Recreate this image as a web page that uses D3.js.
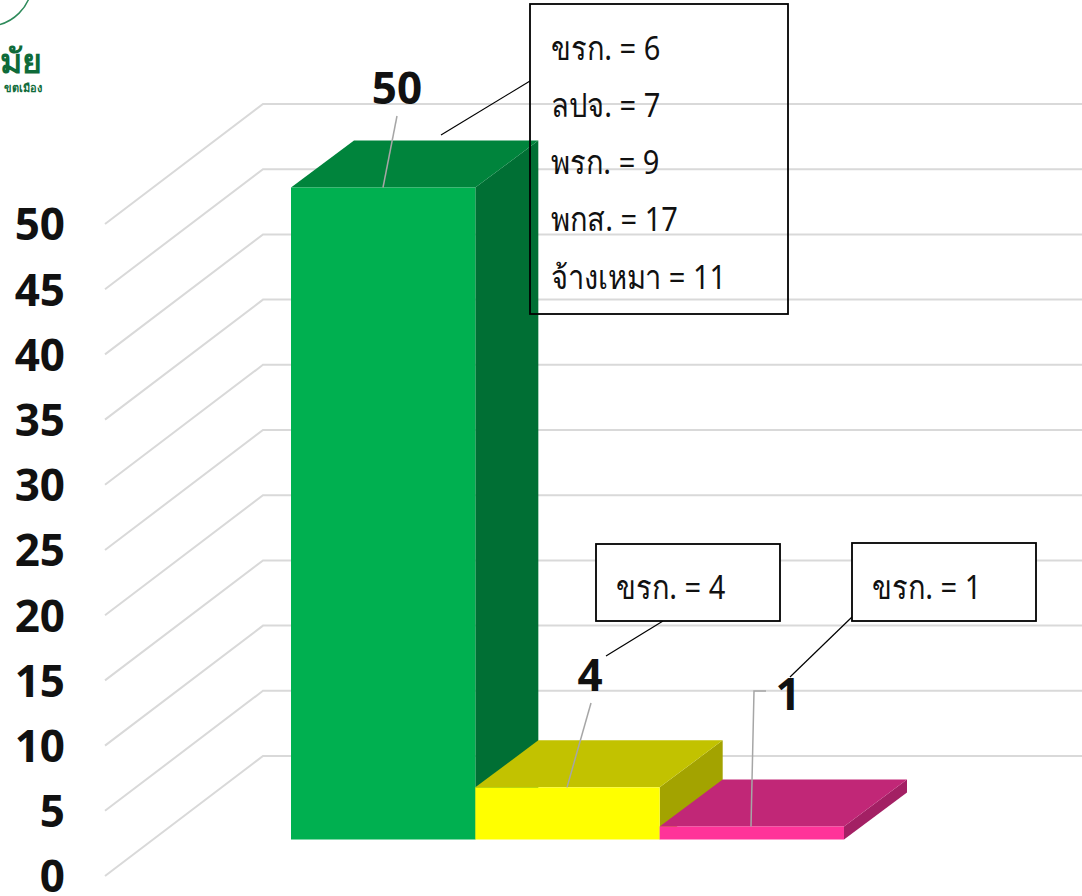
<!DOCTYPE html>
<html>
<head>
<meta charset="utf-8">
<script src="https://cdn.jsdelivr.net/npm/d3@7"></script>
<style>
  html, body { margin: 0; padding: 0; background: #fff; overflow: hidden; }
  text { font-family: "Noto Sans", "DejaVu Sans", sans-serif; }
</style>
</head>
<body>
<div id="chart"></div>
<script>
// Chart values
const categories = ["A", "B", "C"];
const values = [50, 4, 1];
const yTicks = [0, 5, 10, 15, 20, 25, 30, 35, 40, 45, 50];
const frontColors = ["#00b050", "#ffff00", "#ff3399"];
const topColors = ["#00843c", "#c2c200", "#c12777"];
const sideColors = ["#006f34", "#a3a300", "#a32064"];
const noteLines = [
    ["ขรก. = 6", "ลปจ. = 7", "พรก. = 9", "พกส. = 17", "จ้างเหมา = 11"],
    ["ขรก. = 4"],
    ["ขรก. = 1"]
];

const width = 1082;
const height = 896;

const svg = d3.select("#chart").append("svg")
    .attr("width", width)
    .attr("height", height);

// Front plane of the 3D box, gridlines run back from it
const y = d3.scaleLinear().domain([0, 50]).range([876, 224]);
const wall = {dx: 158, dy: -120};     // front corner to back wall
const floor = {dx: 48, dy: -36.5};    // front corner to front of bars
const depth = {dx: 63, dy: -47};      // front of bar to back of bar

const x = d3.scaleBand()
    .domain(categories)
    .range([291, 844]);

// Gridlines
const gridLine = d => [
    [105, y(d)],
    [105 + wall.dx, y(d) + wall.dy],
    [width, y(d) + wall.dy]
];
svg.append("g").selectAll("path")
    .data(yTicks)
    .enter().append("path")
    .attr("d", d => d3.line()(gridLine(d)))
    .attr("fill", "none")
    .attr("stroke", "#d9d9d9")
    .attr("stroke-width", 2);

// Y axis, labels only
const yAxis = svg.append("g")
    .attr("transform", "translate(65,0)")
    .call(d3.axisLeft(y).tickValues(yTicks).tickSize(0).tickPadding(0));
yAxis.select(".domain").remove();
yAxis.selectAll("text")
    .attr("font-size", 44)
    .attr("font-weight", "bold")
    .attr("fill", "#111")
    .attr("dy", "0.36em")
    .style("font-family", "'Noto Sans', sans-serif");

const barTop = i => y(values[i]) + floor.dy;
const barBase = y(0) + floor.dy;
const bars = svg.append("g").selectAll("g")
    .data(categories)
    .enter().append("g");

bars.append("polygon")
    .attr("points", (d, i) => {
        const x1 = x(d) + x.bandwidth();
        return [[x1, barTop(i)], [x1 + depth.dx, barTop(i) + depth.dy],
                [x1 + depth.dx, barBase + depth.dy], [x1, barBase]].join(" ");
    })
    .attr("fill", (d, i) => sideColors[i]);

bars.append("polygon")
    .attr("points", (d, i) => {
        const x0 = x(d), x1 = x(d) + x.bandwidth();
        return [[x0, barTop(i)], [x0 + depth.dx, barTop(i) + depth.dy],
                [x1 + depth.dx, barTop(i) + depth.dy], [x1, barTop(i)]].join(" ");
    })
    .attr("fill", (d, i) => topColors[i]);

bars.append("rect")
    .attr("x", d => x(d))
    .attr("y", (d, i) => barTop(i))
    .attr("width", x.bandwidth())
    .attr("height", (d, i) => barBase - barTop(i))
    .attr("fill", (d, i) => frontColors[i]);

// Data labels with their leader lines
const labelPos = [[397, 88], [590, 675], [788, 694]];
const leaders = [
    [[397, 116], [383, barTop(0)]],
    [[591, 703], [567, barTop(1)]],
    [[766, 691], [754, 691], [751, barTop(2)]]
];
svg.append("g").selectAll("path")
    .data(leaders)
    .enter().append("path")
    .attr("d", d => d3.line()(d))
    .attr("fill", "none")
    .attr("stroke", "#a6a6a6")
    .attr("stroke-width", 1.5);

svg.append("g").selectAll("text")
    .data(values)
    .enter().append("text")
    .attr("x", (d, i) => labelPos[i][0])
    .attr("y", (d, i) => labelPos[i][1])
    .attr("dy", "0.36em")
    .attr("text-anchor", "middle")
    .attr("font-size", 44)
    .attr("font-weight", "bold")
    .attr("fill", "#111")
    .text(d => d);

// Callout boxes
const boxes = [
    {x: 530, y: 4, w: 258, h: 310, fill: "none", textX: 551, textY: 48, step: 57.2,
     line: [[441, 135], [530, 81]]},
    {x: 596, y: 544, w: 184, h: 77, fill: "#fff", textX: 616, textY: 587, step: 0,
     line: [[606, 656], [663, 621]]},
    {x: 852, y: 543, w: 184, h: 78, fill: "#fff", textX: 872, textY: 587, step: 0,
     line: [[790, 677], [852, 617]]}
];
const notes = svg.append("g").selectAll("g")
    .data(boxes)
    .enter().append("g");

notes.append("path")
    .attr("d", d => d3.line()(d.line))
    .attr("stroke", "#000")
    .attr("stroke-width", 1.2)
    .attr("fill", "none");

notes.append("rect")
    .attr("x", d => d.x)
    .attr("y", d => d.y)
    .attr("width", d => d.w)
    .attr("height", d => d.h)
    .attr("fill", d => d.fill)
    .attr("stroke", "#000")
    .attr("stroke-width", 1.8);

// The reference face is narrower and taller, so squeeze the text sideways
notes.each(function(d, i) {
    d3.select(this).selectAll("text")
        .data(noteLines[i])
        .enter().append("text")
        .attr("transform", (t, j) => `translate(${d.textX},${d.textY + j * d.step}) scale(0.88,1)`)
        .attr("dy", "0.36em")
        .attr("font-size", 33)
        .attr("fill", "#111")
        .text(t => t);
});

// Logo and title, both cropped by the picture edge
const logo = svg.append("g").attr("fill", "#0f6b3a");
logo.append("circle")
    .attr("cx", -12)
    .attr("cy", -18)
    .attr("r", 44)
    .attr("fill", "none")
    .attr("stroke", "#2d8a5a")
    .attr("stroke-width", 1.5);
logo.append("text")
    .attr("x", 42)
    .attr("y", 73)
    .attr("text-anchor", "end")
    .attr("font-size", 34)
    .attr("font-weight", "bold")
    .text("มัย");
logo.append("text")
    .attr("x", 42)
    .attr("y", 92)
    .attr("text-anchor", "end")
    .attr("font-size", 11)
    .attr("font-weight", "bold")
    .text("ขตเมือง");

svg.append("text")
    .attr("x", 917)
    .attr("y", -14)
    .attr("text-anchor", "middle")
    .attr("font-size", 40)
    .attr("font-weight", "bold")
    .attr("fill", "#111")
    .text("บุ");
</script>
</body>
</html>
